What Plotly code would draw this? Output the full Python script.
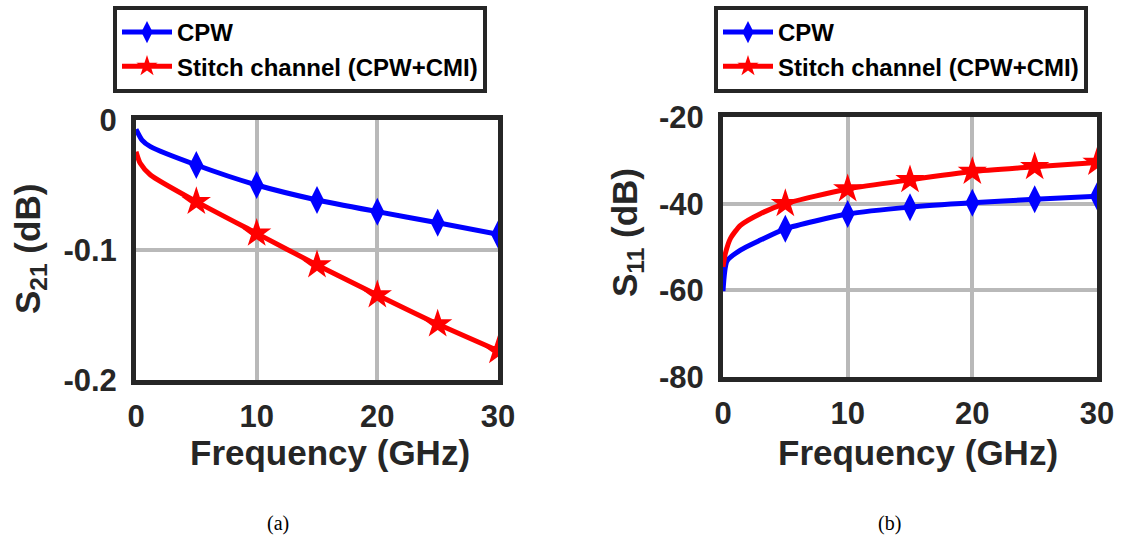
import plotly.graph_objects as go

# ---------------- data ----------------
# (a) S21
freq_a_cpw = [0, 0.5, 1.2, 5, 10, 15, 20, 25, 30]
s21_cpw = [-0.0072, -0.0154, -0.0205, -0.0346, -0.050, -0.0615, -0.0705, -0.079, -0.088]
freq_a_stitch = [0, 0.35, 1.2, 5, 10, 15, 20, 25, 30]
s21_stitch = [-0.0244, -0.0333, -0.0423, -0.0628, -0.0872, -0.1115, -0.1346, -0.157, -0.1775]

# (b) S11
freq_b_cpw = [0, 0.33, 1.4, 3, 5, 10, 15, 20, 25, 30]
s11_cpw = [-60.2, -53.2, -50.7, -48.4, -45.8, -42.4, -40.8, -39.8, -39.0, -38.3]
freq_b_stitch = [0, 0.19, 0.6, 1.4, 3, 5, 10, 15, 20, 25, 30]
s11_stitch = [-54.6, -51.5, -48.0, -45.0, -42.3, -40.0, -36.6, -34.5, -32.6, -31.5, -30.5]

marker_freqs = [5, 10, 15, 20, 25, 30]

series_names = ["CPW", "Stitch channel (CPW+CMI)"]

x_tickvals = [0, 10, 20, 30]
x_ticktext = ["0", "10", "20", "30"]
ya_tickvals = [-0.2, -0.1, 0]
ya_ticktext = ["-0.2", "-0.1", "0"]
yb_tickvals = [-80, -60, -40, -20]
yb_ticktext = ["-80", "-60", "-40", "-20"]

# ---------------- styling ----------------
W, H = 1129, 542
FONT = "Liberation Sans, Arial, Helvetica, sans-serif"
AX = "#262626"
BLUE = "#0000ff"
RED = "#ff0000"
GRID = "#b9b9b9"


def px_x(p):
    return p / W


def px_y(p):
    return 1 - p / H


def pick(freqs, vals):
    fx, fy = [], []
    for f, v in zip(freqs, vals):
        if f in marker_freqs:
            fx.append(f)
            fy.append(v)
    return fx, fy


fig = go.Figure()

panels = [
    ("x", "y", "legend", [(freq_a_cpw, s21_cpw), (freq_a_stitch, s21_stitch)]),
    ("x2", "y2", "legend2", [(freq_b_cpw, s11_cpw), (freq_b_stitch, s11_stitch)]),
]
colors = [BLUE, RED]
symbols = ["diamond-tall", "star"]
msizes = [20, 22]

for xa, ya, lg, series in panels:
    for i, (fx, fy) in enumerate(series):
        fig.add_trace(go.Scatter(
            x=fx, y=fy, xaxis=xa, yaxis=ya, mode="lines",
            line=dict(color=colors[i], width=5, shape="spline", smoothing=0.6),
            showlegend=False, hoverinfo="skip"))
    for i, (fx, fy) in enumerate(series):
        mx, my = pick(fx, fy)
        fig.add_trace(go.Scatter(
            x=mx, y=my, xaxis=xa, yaxis=ya, mode="markers",
            marker=dict(color=colors[i], symbol=symbols[i], size=msizes[i],
                        line=dict(width=0)),
            showlegend=False))
    for i in range(2):
        fig.add_trace(go.Scatter(
            x=[None], y=[None], xaxis=xa, yaxis=ya, mode="lines+markers",
            name=series_names[i], legend=lg,
            line=dict(color=colors[i], width=5),
            marker=dict(color=colors[i], symbol=symbols[i], size=16)))

axis_common = dict(
    showline=True, mirror=True, linecolor=AX, linewidth=5,
    showgrid=True, gridcolor=GRID, gridwidth=4, zeroline=False, automargin=False,
    ticks="", tickfont=dict(family=FONT, size=31, color=AX, weight="bold"),
)

legend_common = dict(
    xanchor="left", yanchor="top",
    bgcolor="white", bordercolor=AX, borderwidth=4,
    font=dict(family=FONT, size=24, color="black", weight="bold"),
    tracegroupgap=0, itemwidth=50,
)

fig.update_layout(
    width=W, height=H,
    margin=dict(l=0, r=0, t=0, b=0, autoexpand=False),
    paper_bgcolor="white", plot_bgcolor="white",
    showlegend=True,
    xaxis=dict(domain=[px_x(136), px_x(498)], range=[0, 30], tickvals=x_tickvals,
               ticktext=x_ticktext, anchor="y", ticklabelstandoff=5, **axis_common),
    yaxis=dict(domain=[px_y(380), px_y(120)], range=[-0.2, 0], tickvals=ya_tickvals,
               ticktext=ya_ticktext, anchor="x", ticklabelstandoff=8, **axis_common),
    xaxis2=dict(domain=[px_x(723), px_x(1097)], range=[0, 30], tickvals=x_tickvals,
                ticktext=x_ticktext, anchor="y2", ticklabelstandoff=5, **axis_common),
    yaxis2=dict(domain=[px_y(377), px_y(117)], range=[-80, -20], tickvals=yb_tickvals,
                ticktext=yb_ticktext, anchor="x2", ticklabelstandoff=8, **axis_common),
    legend=dict(x=px_x(113), y=px_y(6), **legend_common),
    legend2=dict(x=px_x(714), y=px_y(6), **legend_common),
)

title_font = dict(family=FONT, size=35, color=AX, weight="bold")
annots = [
    dict(text="Frequency (GHz)", x=px_x(330), y=px_y(452), textangle=0),
    dict(text="Frequency (GHz)", x=px_x(918), y=px_y(452), textangle=0),
    dict(text="S<sub>21</sub> (dB)", x=px_x(30), y=px_y(249), textangle=-90),
    dict(text="S<sub>11</sub> (dB)", x=px_x(627), y=px_y(233), textangle=-90),
]
for a in annots:
    fig.add_annotation(xref="paper", yref="paper", showarrow=False,
                       xanchor="center", yanchor="middle", font=title_font, **a)

for lab, cx in [("(a)", 278), ("(b)", 889)]:
    fig.add_annotation(text=lab, xref="paper", yref="paper", x=px_x(cx), y=px_y(523),
                       showarrow=False, xanchor="center", yanchor="middle",
                       font=dict(family="Liberation Serif, Times New Roman, serif",
                                 size=20, color="black"))

fig.write_html(
    "out.html",
    config={"displayModeBar": False},
    post_script="document.body.style.margin='0';document.body.style.overflow='hidden';",
)
